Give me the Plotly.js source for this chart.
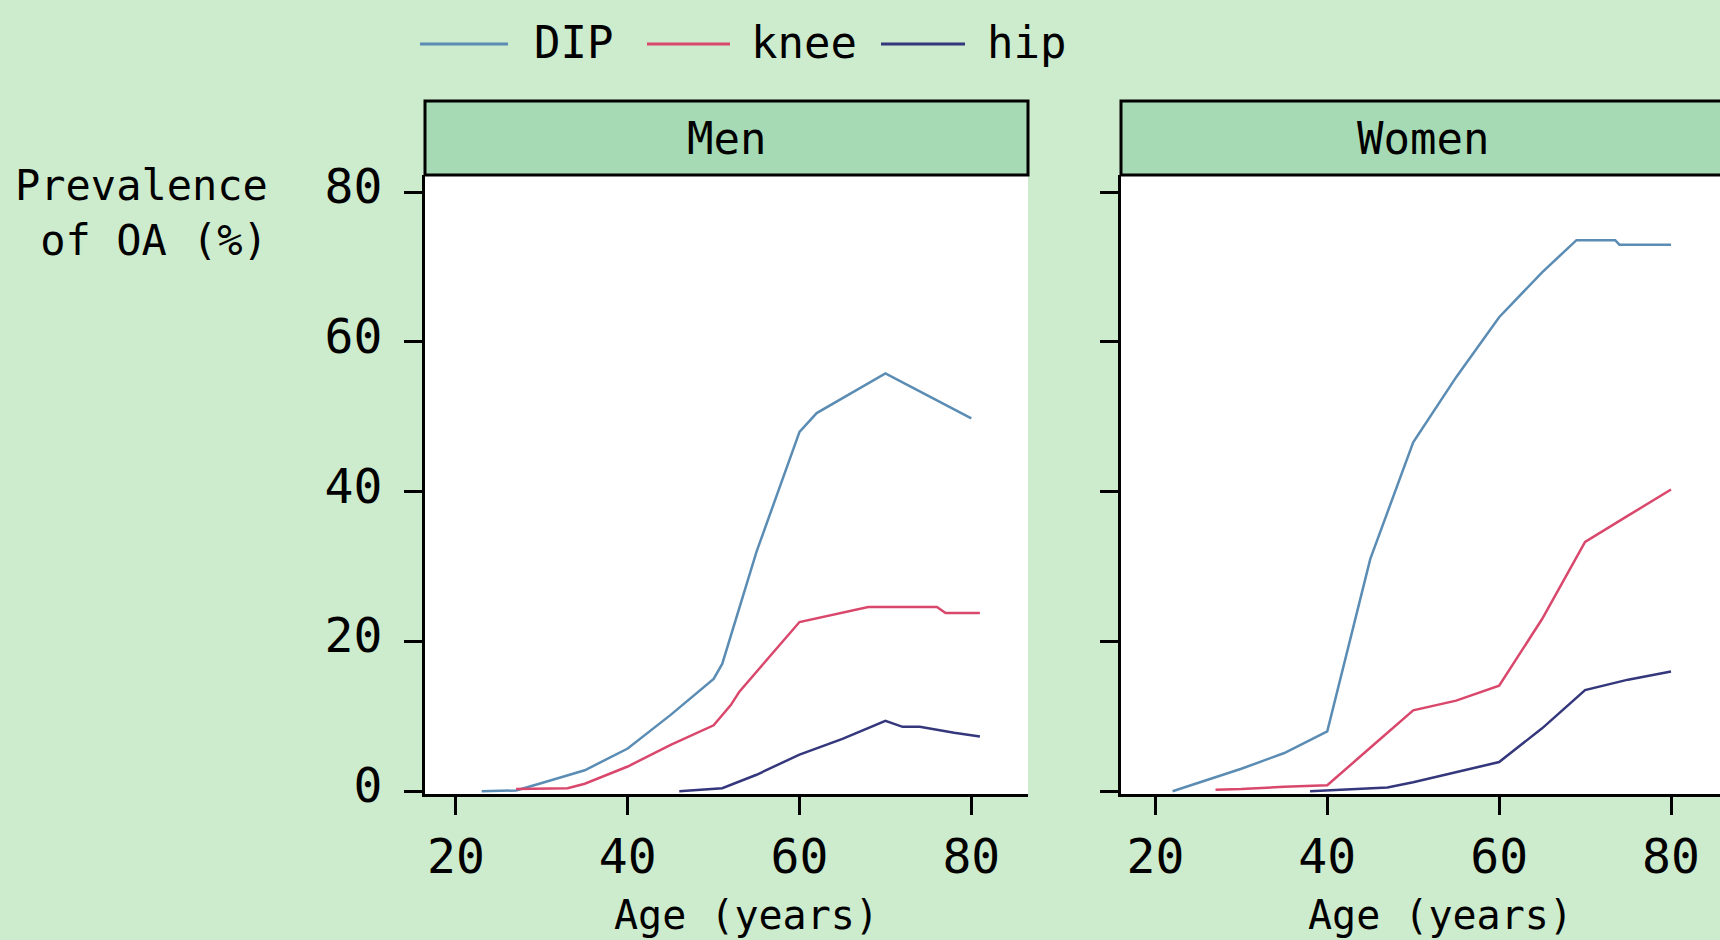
<!DOCTYPE html>
<html>
<head>
<meta charset="utf-8">
<script src="https://cdn.plot.ly/plotly-3.0.1.min.js"></script>
<style>
  html, body { margin: 0; padding: 0; background: #cdebcd; }
  #chart { width: 1720px; height: 940px; }
</style>
</head>
<body>
<div id="chart"></div>
<script>
// ---- Data ----
const seriesNames = ["DIP", "knee", "hip"];
const panelNames = ["Men", "Women"];
const xTickVals = [20, 40, 60, 80];
const yTickVals = [0, 20, 40, 60, 80];

const menDIPAge  = [23, 27, 30, 35, 40, 45, 50, 51, 55, 60, 62, 70, 75, 80];
const menDIP     = [0, 0.1, 1.1, 2.8, 5.7, 10.2, 15.0, 17.0, 32.0, 48.0, 50.5, 55.8, 52.8, 49.8];

const menKneeAge = [27, 30, 33, 35, 40, 45, 50, 52, 53, 60, 65, 68, 76, 77, 81];
const menKnee    = [0.3, 0.4, 0.4, 1.0, 3.3, 6.2, 8.8, 11.5, 13.3, 22.6, 23.9, 24.6, 24.6, 23.8, 23.8];

const menHipAge  = [46, 51, 55, 60, 65, 70, 72, 74, 78, 81];
const menHip     = [0, 0.4, 2.2, 4.9, 7.0, 9.4, 8.6, 8.6, 7.8, 7.3];

const womenDIPAge  = [22, 25, 30, 35, 40, 45, 50, 55, 60, 65, 69, 73.5, 74, 80];
const womenDIP     = [0, 1.1, 3.0, 5.1, 8.0, 31.0, 46.6, 55.3, 63.3, 69.3, 73.6, 73.6, 73.0, 73.0];

const womenKneeAge = [27, 30, 35, 40, 45, 50, 55, 60, 65, 70, 75, 80];
const womenKnee    = [0.2, 0.3, 0.6, 0.8, 5.8, 10.8, 12.1, 14.1, 23.0, 33.3, 36.8, 40.3];

const womenHipAge  = [38, 47, 50, 55, 60, 65, 70, 75, 80];
const womenHip     = [0, 0.5, 1.2, 2.5, 3.9, 8.4, 13.5, 14.9, 16.0];

// ---- Styling ----
const colors = { DIP: "#5a8cb4", knee: "#d9486c", hip: "#34377c" };
const FONT = "DejaVu Sans Mono, monospace";
const W = 1720, H = 940;
const px = v => v / W;
const py = v => 1 - v / H;

function tr(name, x, y, xa, ya) {
  return {
    type: "scatter", mode: "lines", name: name,
    x: x, y: y, xaxis: xa, yaxis: ya,
    line: { color: colors[name], width: 2.5 },
    showlegend: false, hoverinfo: "skip"
  };
}

const traces = [
  tr("DIP",  menDIPAge,  menDIP,  "x",  "y"),
  tr("knee", menKneeAge, menKnee, "x",  "y"),
  tr("hip",  menHipAge,  menHip,  "x",  "y"),
  tr("DIP",  womenDIPAge,  womenDIP,  "x2", "y2"),
  tr("knee", womenKneeAge, womenKnee, "x2", "y2"),
  tr("hip",  womenHipAge,  womenHip,  "x2", "y2")
];

const plotTop = 175, plotBottom = 794;
const menL = 425, menR = 1028, womenL = 1121;

const axisCommon = {
  showgrid: false, zeroline: false,
  showline: true, linecolor: "black", linewidth: 3,
  ticks: "outside", ticklen: 18, tickwidth: 3, tickcolor: "black",
  tickfont: { family: FONT, size: 48, color: "black" },
  fixedrange: true
};

// Legend drawn as key lines + labels at the top
const legendLineX = [[420, 508], [647, 730], [881, 965]];
const legendTextX = [532, 749, 985];
const legendY = 44;

const shapes = [
  { type: "rect", xref: "paper", yref: "paper",
    x0: px(menL), x1: px(menR), y0: py(plotTop), y1: py(101),
    fillcolor: "#a6dab4", line: { color: "black", width: 3 } },
  { type: "rect", xref: "paper", yref: "paper",
    x0: px(womenL), x1: 1.02, y0: py(plotTop), y1: py(101),
    fillcolor: "#a6dab4", line: { color: "black", width: 3 } }
];
const annotations = [
  { text: panelNames[0], xref: "paper", yref: "paper", x: px((menL + menR) / 2), y: py(139),
    showarrow: false, xanchor: "center", yanchor: "middle",
    font: { family: FONT, size: 44, color: "black" } },
  { text: panelNames[1], xref: "paper", yref: "paper", x: px(1423), y: py(139),
    showarrow: false, xanchor: "center", yanchor: "middle",
    font: { family: FONT, size: 44, color: "black" } },
  { text: "Prevalence<br>of OA (%)", xref: "paper", yref: "paper", x: px(270), y: py(213),
    showarrow: false, xanchor: "right", yanchor: "middle", align: "right",
    font: { family: FONT, size: 42, color: "black" } },
  { text: "Age (years)", xref: "paper", yref: "paper", x: px(746), y: py(915),
    showarrow: false, xanchor: "center", yanchor: "middle",
    font: { family: FONT, size: 40, color: "black" } },
  { text: "Age (years)", xref: "paper", yref: "paper", x: px(1440), y: py(915),
    showarrow: false, xanchor: "center", yanchor: "middle",
    font: { family: FONT, size: 40, color: "black" } }
];
seriesNames.forEach((name, i) => {
  shapes.push({ type: "line", xref: "paper", yref: "paper",
    x0: px(legendLineX[i][0]), x1: px(legendLineX[i][1]), y0: py(legendY), y1: py(legendY),
    line: { color: colors[name], width: 3 } });
  annotations.push({ text: name, xref: "paper", yref: "paper", x: px(legendTextX[i]), y: py(legendY - 2),
    showarrow: false, xanchor: "left", yanchor: "middle",
    font: { family: FONT, size: 44, color: "black" } });
});

const layout = {
  width: W, height: H,
  margin: { l: 0, r: 0, t: 0, b: 0 },
  paper_bgcolor: "#cdebcd",
  plot_bgcolor: "white",
  font: { family: FONT, color: "black" },
  showlegend: false,
  xaxis: Object.assign({}, axisCommon, {
    domain: [px(menL), px(menR)], range: [16.4, 86.6],
    tickvals: xTickVals, anchor: "y", ticklabelstandoff: 0
  }),
  yaxis: Object.assign({}, axisCommon, {
    domain: [py(plotBottom), py(plotTop)], range: [-0.37, 82.3],
    tickvals: yTickVals, anchor: "x", ticklabelstandoff: 12, ticklabelshift: -6
  }),
  xaxis2: Object.assign({}, axisCommon, {
    domain: [px(womenL), 1], range: [16.0, 85.7],
    tickvals: xTickVals, anchor: "y2", ticklabelstandoff: 0
  }),
  yaxis2: Object.assign({}, axisCommon, {
    domain: [py(plotBottom), py(plotTop)], range: [-0.37, 82.3],
    tickvals: yTickVals, anchor: "x2", showticklabels: false
  }),
  shapes: shapes,
  annotations: annotations
};

Plotly.newPlot("chart", traces, layout, { staticPlot: true, displayModeBar: false });
</script>
</body>
</html>
